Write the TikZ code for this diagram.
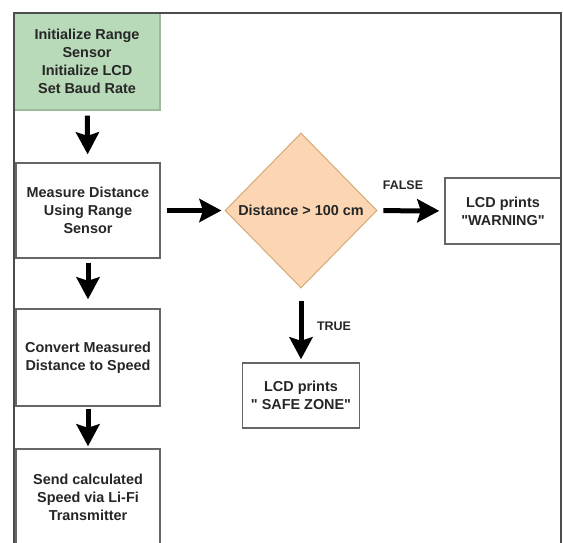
\documentclass[tikz,border=0pt]{standalone}
\usepackage{fontspec}
\setmainfont{Liberation Sans}[Ligatures=TeXOff]
\usetikzlibrary{shapes.geometric,arrows.meta}
\definecolor{initgreen}{RGB}{184,218,184}
\definecolor{peach}{RGB}{252,214,178}
\definecolor{peachline}{RGB}{214,172,124}
\tikzset{
  box/.style={draw=black!60,line width=0.8pt,fill=white,align=center,inner sep=0pt,
    text=black!85,font=\bfseries\fontsize{8.2}{10.3}\selectfont},
  decision/.style={diamond,draw=peachline,line width=0.6pt,fill=peach,inner sep=0pt,
    text=black!85,font=\bfseries\fontsize{8.2}{10.3}\selectfont},
  arr/.style={-{Stealth[width=0.46cm,length=0.44cm,inset=0.07cm]},line width=0.1cm},
  lbl/.style={text=black!85,font=\bfseries\fontsize{7.1}{8.5}\selectfont}
}
\begin{document}
\begin{tikzpicture}
\useasboundingbox (0,0) rectangle (11.26,10.84);
\node[box,draw=initgreen!85!black,fill=initgreen,minimum width=2.92cm,minimum height=1.94cm] (init) at (1.74,9.61)
  {Initialize Range\\Sensor\\Initialize LCD\\Set Baud Rate};
\node[box,minimum width=2.88cm,minimum height=1.90cm] (measure) at (1.76,6.63)
  {Measure Distance\\Using Range\\Sensor};
\node[box,minimum width=2.88cm,minimum height=1.94cm] (convert) at (1.76,3.69)
  {Convert Measured\\Distance to Speed};
\node[box,minimum width=2.88cm,minimum height=1.92cm] (send) at (1.76,0.90)
  {Send calculated\\Speed via Li-Fi\\Transmitter};
\node[decision,minimum width=3.04cm,minimum height=3.10cm] (check) at (6.02,6.63)
  {Distance > 100 cm};
\node[box,minimum width=2.32cm,minimum height=1.32cm] (warn) at (10.06,6.62)
  {LCD prints\\"WARNING"};
\node[box,minimum width=2.34cm,minimum height=1.30cm] (safe) at (6.02,2.93)
  {LCD prints\\" SAFE ZONE"};

\draw[black!70,line width=0.05cm] (0.28,-0.2) -- (0.28,10.58) -- (11.22,10.58) -- (11.22,-0.2);

\draw[arr,shorten <=0.1cm,shorten >=0.16cm] (init) -- (measure);
\draw[arr,shorten <=0.08cm,shorten >=0.18cm] (measure) -- (convert);
\draw[arr,shorten <=0.04cm,shorten >=0.04cm] (convert) -- (send);
\draw[arr,shorten <=0.12cm,shorten >=0.06cm] (measure) -- (check);
\draw[arr,shorten <=0.12cm,shorten >=0.1cm] (check) -- (warn);
\draw[arr,shorten <=0.24cm,shorten >=0.06cm] (check) -- (safe);

\node[lbl] (falselbl) at (8.06,7.14) {FALSE};
\node[lbl] (truelbl) at (6.68,4.32) {TRUE};
\end{tikzpicture}
\end{document}
